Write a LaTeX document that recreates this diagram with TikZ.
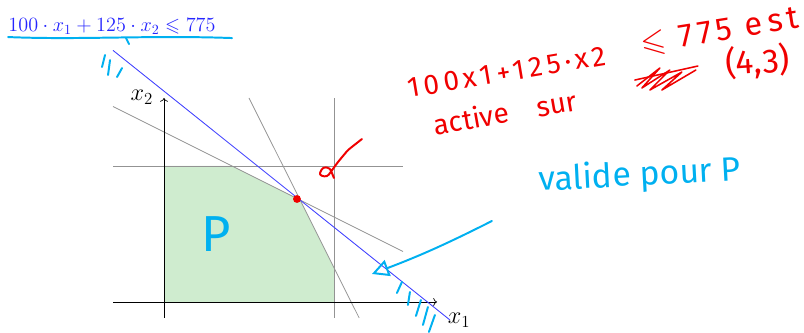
\documentclass[tikz,border=0pt]{standalone}
\usepackage{xcolor}
\usepackage{amsmath, amssymb}
\usepackage{fontspec}
\newfontfamily\hand{Fira Sans}
\newfontfamily\handwide{Fira Sans}[LetterSpace=15]
\usetikzlibrary{positioning,arrows.meta}

\definecolor{zone}{RGB}{207,236,207}
\definecolor{cyanpen}{RGB}{0,176,240}
\definecolor{redpen}{RGB}{240,0,0}

\begin{document}
\begin{tikzpicture}[x=0.85cm,y=0.85cm,
	grayline/.style={gray!85,line width=0.55pt},
	blueline/.style={blue!75,line width=0.6pt},
	axis/.style={->,line width=0.5pt},
	label/.style={font=\fontsize{17}{17}\selectfont},
	note/.style={inner sep=1pt},
	cpen/.style={cyanpen,line width=1.4pt,line cap=round,line join=round},
	rpen/.style={redpen,line width=1.4pt,line cap=round,line join=round}]
			
			\useasboundingbox (-4.824,-0.912) rectangle (18.824,8.882);
			
			\fill[zone] (0,0) -- (5,0) -- (5,1) -- (4,3) -- (2,4) -- (0,4) -- cycle;
			
			\coordinate (h1) at (-1.5,4);   \coordinate (h2) at (7.03,4);
			\coordinate (v1) at (5,-0.47);  \coordinate (v2) at (5,6);
			\coordinate (s1) at (-1.5,5.75); \coordinate (s2) at (7.03,1.485);
			\coordinate (t1) at (2.5,6);    \coordinate (t2) at (5.74,-0.47);
			\coordinate (b1) at (-1.5,7.4); \coordinate (b2) at (8.41,-0.53);
			\coordinate (o1) at (-1.5,0);   \coordinate (o2) at (8.03,0);
			\coordinate (o3) at (0,-0.47);  \coordinate (o4) at (0,6);
			
			\draw[grayline] (h1) -- (h2);
			\draw[grayline] (v1) -- (v2);
			\draw[grayline] (s1) -- (s2);
			\draw[grayline] (t1) -- (t2);
			\draw[axis] (o1) -- (o2);
			\draw[axis] (o3) -- (o4);
			\draw[blueline] (b1) -- (b2);
			
			\node[label] (lx1) at (8.68,-0.53) {$x_1$};
			\node[label] (lx2) at (-0.65,6.03) {$x_2$};
			\node[text=blue!85,font=\fontsize{13.7}{14}\selectfont] (eq) at (-1.53,8.09)
				{$100\cdot x_1+125\cdot x_2\leqslant 775$};
			
			% notes written over the picture
			\begin{scope}[x=0.025cm,y=-0.025cm,shift={(-164,-302)}]
				\draw[cpen] (8,37) .. controls (80,40) and (150,35) .. (232,38);
				\draw[cpen] (126,38) -- (129,44);
				\draw[cpen] (105,55) -- (102,67);
				\draw[cpen] (110,60) -- (108,75);
				\draw[cpen] (122,68) -- (117,77);
				\foreach \x/\y/\u/\v in {402/282/397/293, 410/292/408/305, 421/300/416/316,
					428/307/423/325, 435/315/429/332}
					\draw[cpen] (\x,\y) -- (\u,\v);
				
				\coordinate (a1) at (492,221);
				\coordinate (a2) at (372,274);
				\draw[cpen,-{Triangle[open,length=12pt,width=12pt]}] (a1) to[bend left=3] (a2);
				
				\node[note,text=cyanpen,font=\hand\fontsize{36}{36}\selectfont] (p) at (216,234) {P};
				\node[note,text=cyanpen,font=\hand\fontsize{24}{24}\selectfont,rotate=3] (valid) at (640,176) {valide pour P};
				
				\fill[redpen] (297,199) circle (2.8pt);
				\draw[rpen,rounded corners=2pt] (362,139) -- (348,150) -- (338,162) -- (330,173)
					-- (327,177) -- (319,175) -- (323,167) -- (330,168) -- (334,178);
				
				\node[note,text=redpen,font=\handwide\fontsize{20}{20}\selectfont,rotate=9.5] (r1) at (507,72) {100x1+125·x2};
				\node[note,text=redpen,font=\handwide\fontsize{23}{23}\selectfont,rotate=9] (r2) at (720,32) {$\leqslant$ 775 est};
				\node[note,text=redpen,font=\hand\fontsize{20}{20}\selectfont,rotate=10] (r3) at (505,112) {active\quad sur};
				\node[note,text=redpen,font=\hand\fontsize{24}{24}\selectfont,rotate=4] (r4) at (758,62) {(4,3)};
				\draw[rpen,line width=1.1pt] (637,86) -- (660,68) -- (642,88) -- (670,70) -- (650,90)
					-- (682,72) -- (662,90) -- (696,70);
				\draw[rpen,line width=1.1pt] (635,80) -- (698,66);
			\end{scope}
			
		\end{tikzpicture}
\end{document}
